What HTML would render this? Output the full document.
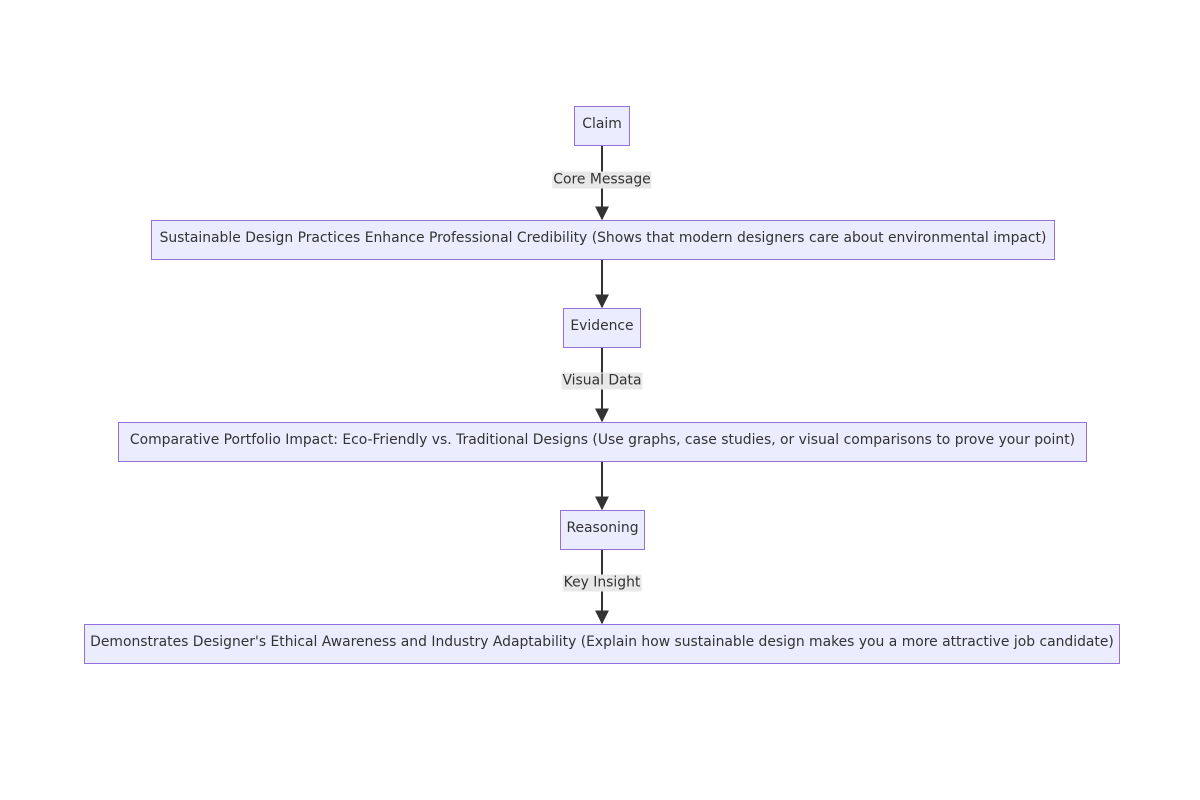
<!DOCTYPE html>
<html><head><meta charset="utf-8"><style>
html,body{margin:0;padding:0;background:#fff;}
body{width:1200px;height:800px;position:relative;overflow:hidden;font-family:"DejaVu Sans","Liberation Sans",sans-serif;font-size:13.9px;color:#333;}
.n{position:absolute;box-sizing:border-box;background:#ECECFF;border:1px solid #9370DB;display:flex;align-items:center;justify-content:center;white-space:nowrap;padding-bottom:4px;}
.l{position:absolute;background:#e8e8e8;white-space:nowrap;transform:translate(-50%,-50%);padding:0 1px;line-height:17px;}
svg{position:absolute;left:0;top:0;}
</style></head><body>
<svg width="1200" height="800">
<defs><marker id="a" viewBox="0 0 10 10" refX="9" refY="5" markerWidth="7" markerHeight="7" orient="auto"><path d="M0,0L10,5L0,10z" fill="#333"/></marker></defs>
<g stroke="#333" stroke-width="2" marker-end="url(#a)">
<line x1="602" y1="146" x2="602" y2="219"/>
<line x1="602" y1="259" x2="602" y2="307"/>
<line x1="602" y1="347" x2="602" y2="421"/>
<line x1="602" y1="461" x2="602" y2="509"/>
<line x1="602" y1="549" x2="602" y2="623"/>
</g></svg>
<div class="n" style="left:574px;top:106px;width:56px;height:40px">Claim</div>
<div class="l" style="left:602px;top:180px">Core Message</div>
<div class="n" style="left:151px;top:220px;width:904px;height:40px">Sustainable Design Practices Enhance Professional Credibility (Shows that modern designers care about environmental impact)</div>
<div class="n" style="left:563px;top:308px;width:78px;height:40px">Evidence</div>
<div class="l" style="left:602px;top:381px">Visual Data</div>
<div class="n" style="left:118px;top:422px;width:969px;height:40px">Comparative Portfolio Impact: Eco-Friendly vs. Traditional Designs (Use graphs, case studies, or visual comparisons to prove your point)</div>
<div class="n" style="left:560px;top:510px;width:85px;height:40px">Reasoning</div>
<div class="l" style="left:602px;top:583px">Key Insight</div>
<div class="n" style="left:84px;top:624px;width:1036px;height:40px">Demonstrates Designer's Ethical Awareness and Industry Adaptability (Explain how sustainable design makes you a more attractive job candidate)</div>
</body></html>
